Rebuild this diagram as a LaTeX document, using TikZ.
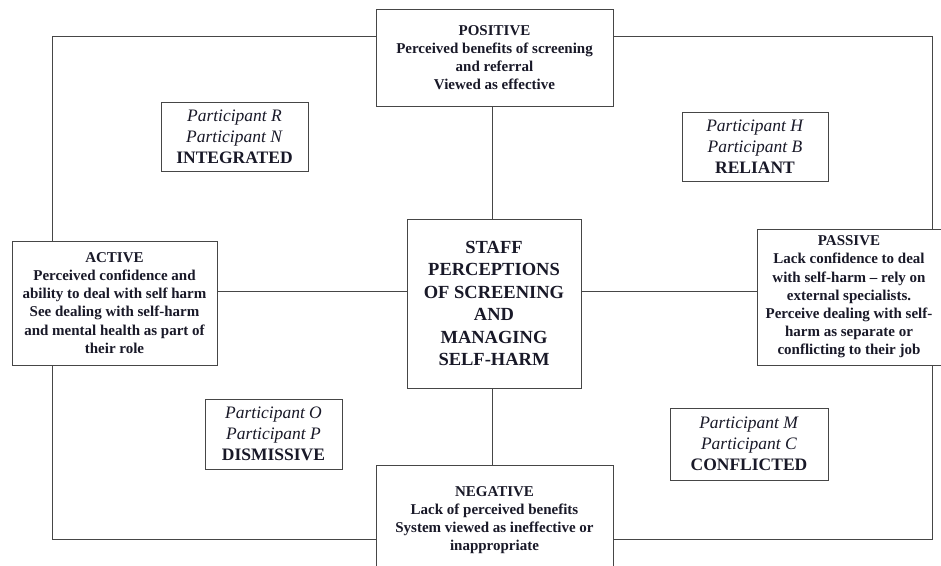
\documentclass[tikz,border=0pt]{standalone}
\usepackage{fontspec}
\setmainfont{Liberation Serif}
\definecolor{ink}{RGB}{25,25,40}
\definecolor{frame}{RGB}{70,70,70}
\begin{document}
\begin{tikzpicture}[x=1pt,y=-1pt,
  box/.style={draw=frame,line width=1pt,fill=white,align=center,inner sep=0pt,text=ink},
  small/.style={box,font=\fontsize{15}{18.2}\selectfont\bfseries},
  big/.style={box,font=\fontsize{18.5}{22.5}\selectfont\bfseries},
  part/.style={box,font=\fontsize{17.5}{21}\selectfont},
  conn/.style={draw=frame,line width=1pt}]
\useasboundingbox (0,0) rectangle (941,565);
\clip (0,0) rectangle (941,565);
\coordinate (tl) at (52,36);
\coordinate (tr) at (932,36);
\coordinate (bl) at (52,539);
\coordinate (br) at (932,539);
\coordinate (mid) at (0,291);
% nodes
\node[small,minimum width=237,minimum height=97] (pos) at (494.5,57.5)
  {POSITIVE\\Perceived benefits of screening\\and referral\\Viewed as effective};
\node[big,minimum width=174,minimum height=169] (ctr) at (494,303.5)
  {STAFF\\PERCEPTIONS\\OF SCREENING\\AND\\MANAGING\\SELF-HARM};
\node[small,minimum width=205,minimum height=124] (act) at (114.5,303)
  {ACTIVE\\Perceived confidence and\\ability to deal with self harm\\See dealing with self-harm\\and mental health as part of\\their role};
\node[small,minimum width=184,minimum height=136] (pas) at (849,297)
  {PASSIVE\\Lack confidence to deal\\with self-harm -- rely on\\external specialists.\\Perceive dealing with self-\\harm as separate or\\conflicting to their job};
\node[small,minimum width=237,minimum height=110] (neg) at (494.5,520)
  {NEGATIVE\\Lack of perceived benefits\\System viewed as ineffective or\\inappropriate};
\node[part,minimum width=147,minimum height=69] (int) at (234.5,136.5)
  {\textit{Participant R}\\\textit{Participant N}\\\textbf{INTEGRATED}};
\node[part,minimum width=146,minimum height=69] (rel) at (755,146.5)
  {\textit{Participant H}\\\textit{Participant B}\\\textbf{RELIANT}};
\node[part,minimum width=137,minimum height=70] (dis) at (273.5,434)
  {\textit{Participant O}\\\textit{Participant P}\\\textbf{DISMISSIVE}};
\node[part,minimum width=158,minimum height=72] (con) at (749,444)
  {\textit{Participant M}\\\textit{Participant C}\\\textbf{CONFLICTED}};
% outer frame
\draw[conn] (pos.west |- tl) -- (tl) -- (act.north -| tl);
\draw[conn] (act.south -| bl) -- (bl) -- (neg.west |- bl);
\draw[conn] (pos.east |- tr) -- (tr) -- (pas.north -| tr);
\draw[conn] (pas.south -| br) -- (br) -- (neg.east |- br);
% spokes
\draw[conn] (pos.south -| 492,0) -- (ctr.north -| 492,0);
\draw[conn] (ctr.south -| 492,0) -- (neg.north -| 492,0);
\draw[conn] (act.east |- mid) -- (ctr.west |- mid);
\draw[conn] (ctr.east |- mid) -- (pas.west |- mid);
\end{tikzpicture}
\end{document}
